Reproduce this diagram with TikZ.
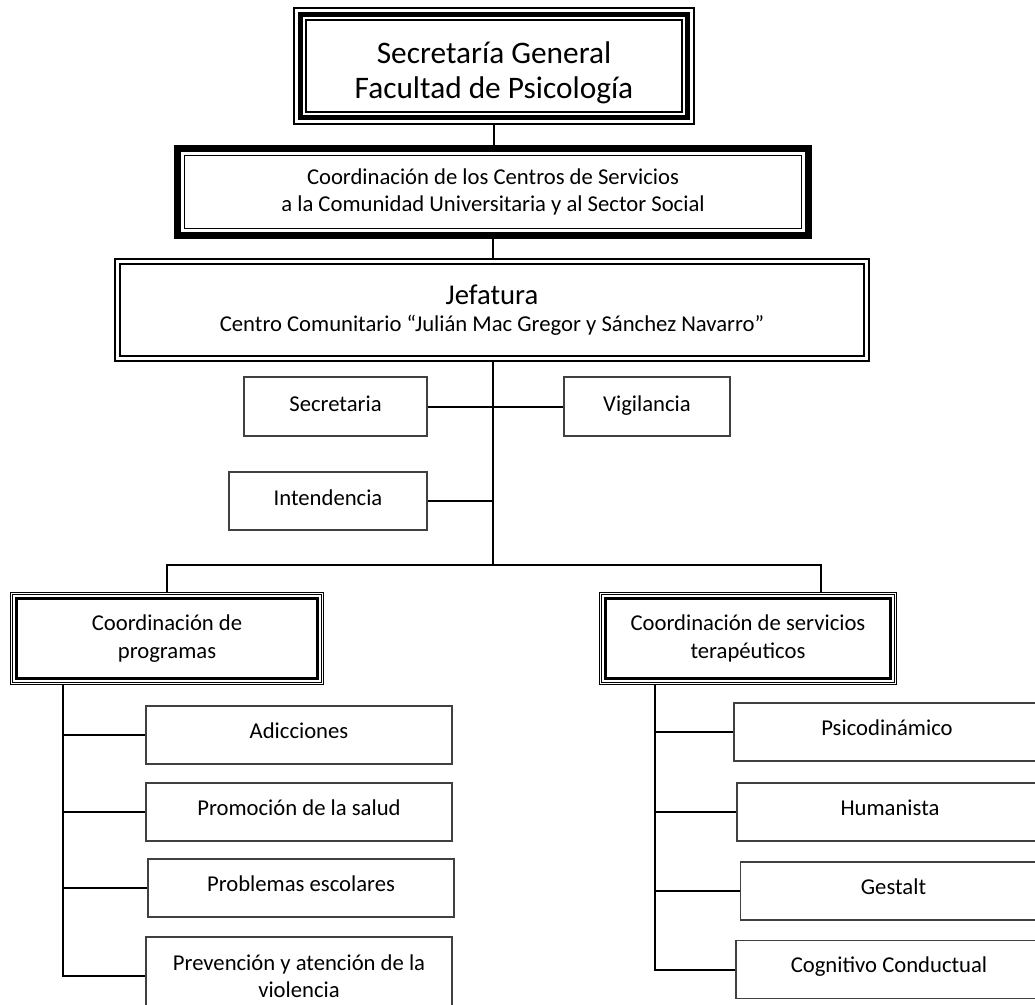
\documentclass[tikz,border=0pt]{standalone}
\usepackage{fontspec}
\setmainfont{Carlito}
\tikzset
{
    leafbox/.style  = {rectangle, draw=black!75, line width=0.9pt, align=center, minimum width=229.5pt, minimum height=43.5pt, inner sep=0pt},
    oneline/.style  = {text height=11pt, text depth=6pt},
    staffbox/.style = {leafbox, text height=11pt, text depth=4pt, minimum width=#1},
    framebox/.style = {rectangle, align=center, inner sep=0pt},
    link/.style     = {line width=1.5pt}
}

\begin{document}
\begin{tikzpicture}[x=0.75pt, y=-0.75pt, font=\fontsize{17}{20.5}\selectfont]
    \useasboundingbox (0,0) rectangle (1035,1004);
    \clip (0,0) rectangle (1035,1004);

    % upper levels
    \node [framebox, minimum width=301.5pt, minimum height=88.5pt, font=\fontsize{23.5}{26.25}\selectfont] (secgen) at (494,66) {\rule{0pt}{26pt}Secretaría General\\Facultad de Psicología};
    \node [framebox, minimum width=478.5pt, minimum height=70.5pt] (coord) at (493,192) {Coordinación de los Centros de Servicios\\a la Comunidad Universitaria y al Sector Social};
    \node [framebox, minimum width=567pt, minimum height=78pt] (jefatura) at (492,310) {{\fontsize{21.5}{26}\selectfont Jefatura}\\Centro Comunitario “Julián Mac Gregor y Sánchez Navarro”};

    % staff
    \node [staffbox=137.25pt, minimum height=44.25pt] (secre) at (335.5,406.5) {Secretaria};
    \node [staffbox=124.5pt, minimum height=44.25pt] (vigil) at (647,406.5) {Vigilancia};
    \node [staffbox=148.5pt] (intend) at (328,501) {Intendencia};

    % coordinations
    \node [framebox, minimum width=235.5pt, minimum height=69.75pt] (progr) at (167,638.5) {Coordinación de\\programas};
    \node [framebox, minimum width=223.5pt, minimum height=69.75pt] (terap) at (748,638.5) {Coordinación de servicios\\terapéuticos};

    % frames
    \foreach \n/\i/\w in {secgen/1.5/2, secgen/7.5/5, secgen/13.5/2,
                          coord/3.5/7, coord/11/1.5,
                          jefatura/1/2, jefatura/6/2,
                          progr/0.75/1.5, progr/3/1.5, progr/6.5/3,
                          terap/0.75/1.5, terap/3/1.5, terap/6.5/3}
        \draw [line width=\w*0.75pt] ([shift={(\i,\i)}]\n.north west) rectangle ([shift={(-\i,-\i)}]\n.south east);

    % programs
    \node [leafbox, oneline] (adic)  at (299,735) {Adicciones};
    \node [leafbox, oneline] (promo) at (299,812) {Promoción de la salud};
    \node [leafbox, oneline] (escol) at (301,888) {Problemas escolares};
    \node [leafbox, minimum height=58.5pt] (viol) at (299,976) {Prevención y atención de la\\violencia};

    % therapies
    \node [leafbox, oneline] (psico) at (887,732) {Psicodinámico};
    \node [leafbox, oneline] (human) at (890,812) {Humanista};
    \node [leafbox, oneline] (gest)  at (893.5,891) {Gestalt};
    \node [leafbox, oneline] (cogn)  at (889,969.5) {Cognitivo Conductual};

    % connectors
    \coordinate (spine)  at (493,565);
    \coordinate (barR)   at (821,565);
    \coordinate (ltrunk) at (63,685);
    \coordinate (rtrunk) at (655,685);

    \draw [link] (secgen.south) -- (secgen.south |- coord.north);
    \draw [link] (coord.south) -- (coord.south |- jefatura.north);
    \draw [link] (spine |- jefatura.south) -- (spine);
    \draw [link] (secre.east) -- (vigil.west);
    \draw [link] (intend.east) -- (intend.east -| spine);
    \draw [link] (progr.north) |- (barR) -- (barR |- terap.north);

    \draw [link] (ltrunk) |- (viol.west);
    \foreach \n in {adic,promo,escol}
        \draw [link] (ltrunk |- \n.west) -- (\n.west);
    \draw [link] (rtrunk) |- (cogn.west);
    \foreach \n in {psico,human,gest}
        \draw [link] (rtrunk |- \n.west) -- (\n.west);
\end{tikzpicture}
\end{document}
